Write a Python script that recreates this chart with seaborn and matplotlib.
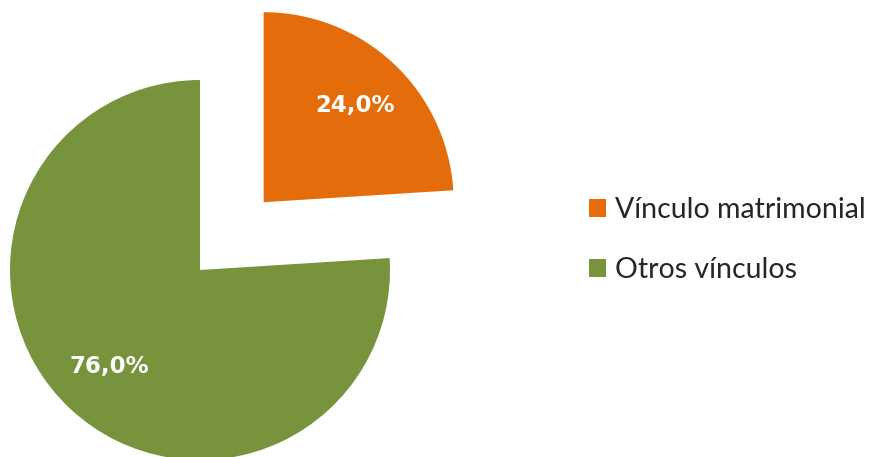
import seaborn as sns
import matplotlib.pyplot as plt

# data
categorias = ["Vínculo matrimonial", "Otros vínculos"]
porcentajes = [24.0, 76.0]
colores = ["#E46C0A", "#77933C"]

sns.set_theme(style="white")
plt.rcParams['font.family'] = ['Lato', 'DejaVu Sans']

fig = plt.figure(figsize=(8.76, 4.57), dpi=100)
ax = fig.add_axes([0, 0, 1, 1])

# working in pixel units, so explode is an absolute offset
wedges, texts, autotexts = ax.pie(
    porcentajes,
    colors=colores,
    startangle=90,
    counterclock=False,
    explode=[93, 0],
    center=(200, 187),
    radius=190,
    pctdistance=0.7,
    autopct=lambda p: f"{p:.1f}%".replace('.', ','),
    textprops=dict(color="white", fontsize=16.5, fontweight="bold",
                   family=['DejaVu Sans']),
    wedgeprops=dict(linewidth=0),
)

ax.set_xlim(0, 876)
ax.set_ylim(0, 457)
ax.set_aspect('auto')
ax.axis('off')

ax.legend(wedges, categorias, loc="center left", bbox_to_anchor=(0.672, 0.475),
          frameon=False, fontsize=20.5, handlelength=0.62, handleheight=0.62,
          handletextpad=0.3, labelspacing=1.2, borderpad=0, borderaxespad=0)

fig.savefig("out.png", dpi=100)
